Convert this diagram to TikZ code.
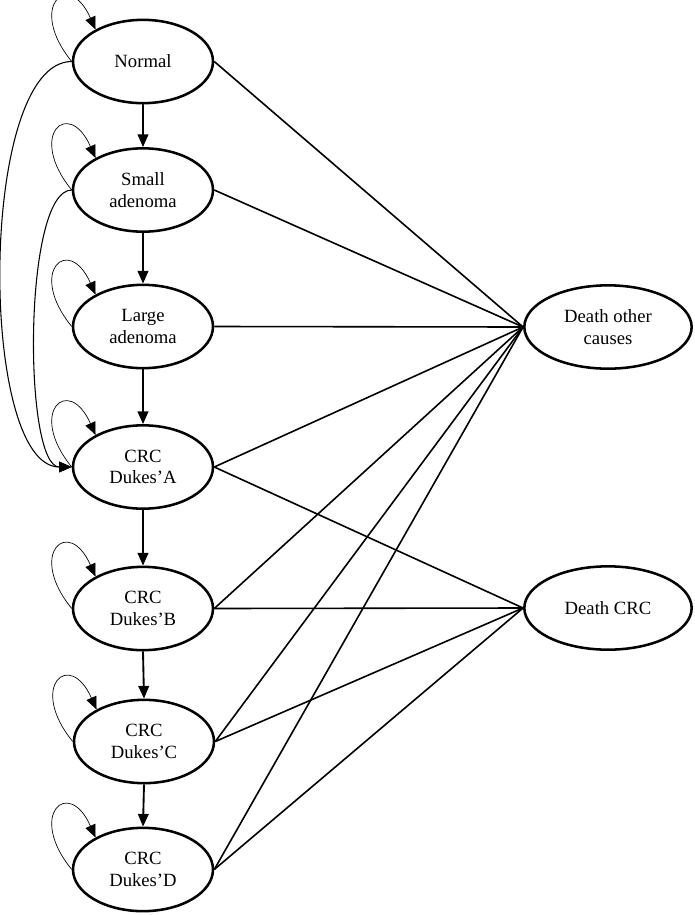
\documentclass[tikz,border=0pt]{standalone}
\usepackage{fontspec}
\setmainfont{Liberation Serif}
\usetikzlibrary{shapes.geometric,arrows.meta}

\begin{document}
\begin{tikzpicture}[x=0.75pt, y=0.75pt,
  state/.style={draw, ellipse, line width=1.9pt, minimum width=105pt, minimum height=62.5pt,
    inner sep=0pt, align=center, font=\fontsize{14}{16}\selectfont},
  death/.style={state, minimum width=125.5pt},
  next/.style={-{Triangle[length=9.5pt,width=8pt]}, line width=1.4pt},
  stay/.style={-{Triangle[length=9.5pt,width=8pt]}, line width=0.5pt},
  jump/.style={-{Triangle[length=9.5pt,width=8pt]}, line width=0.8pt},
  exit/.style={line width=1.2pt}]
  \useasboundingbox (0,0) rectangle (694,-915);

  % health states
  \node[state] (normal) at (143,-61.5) {Normal};
  \node[state] (small)  at (143,-190)  {Small\\adenoma};
  \node[state] (large)  at (143,-326.5) {Large\\adenoma};
  \node[state] (dukesA) at (143,-467)  {CRC\\Dukes’A};
  \node[state] (dukesB) at (143,-608.5) {CRC\\Dukes’B};
  \node[state] (dukesC) at (144,-741.5) {CRC\\Dukes’C};
  \node[state] (dukesD) at (143,-869.5) {CRC\\Dukes’D};

  % absorbing states
  \node[death] (deathother) at (608,-327) {Death other\\causes};
  \node[death] (deathcrc)   at (608,-608) {Death CRC};

  % progression
  \draw[next] (normal.south) -- (small.north);
  \draw[next] (small.south) -- (large.north);
  \draw[next] (large.south) -- (dukesA.north);
  \draw[next] (dukesA.south) -- (dukesB.north);
  \draw[next] (dukesB.south) -- (dukesC.north);
  \draw[next] (dukesC.south) -- (dukesD.north);

  % stay in the same state
  \foreach \s in {normal,small,large,dukesA,dukesB,dukesC,dukesD}
    \draw[stay] (\s.west) .. controls +(-45,55) and +(-27,61) .. (\s.146);

  % jumps straight to Dukes' A
  \draw[jump] (normal.west) .. controls (-22,-61.5) and (-22,-467) .. (dukesA.west);
  \draw[jump] (small.west) .. controls (23,-190) and (23,-467) .. (dukesA.west);

  % deaths
  \foreach \s in {normal,small,large,dukesA,dukesB,dukesC,dukesD}
    \draw[exit] (\s.east) -- (deathother.west);
  \foreach \s in {dukesA,dukesB,dukesC,dukesD}
    \draw[exit] (\s.east) -- (deathcrc.west);
\end{tikzpicture}
\end{document}
